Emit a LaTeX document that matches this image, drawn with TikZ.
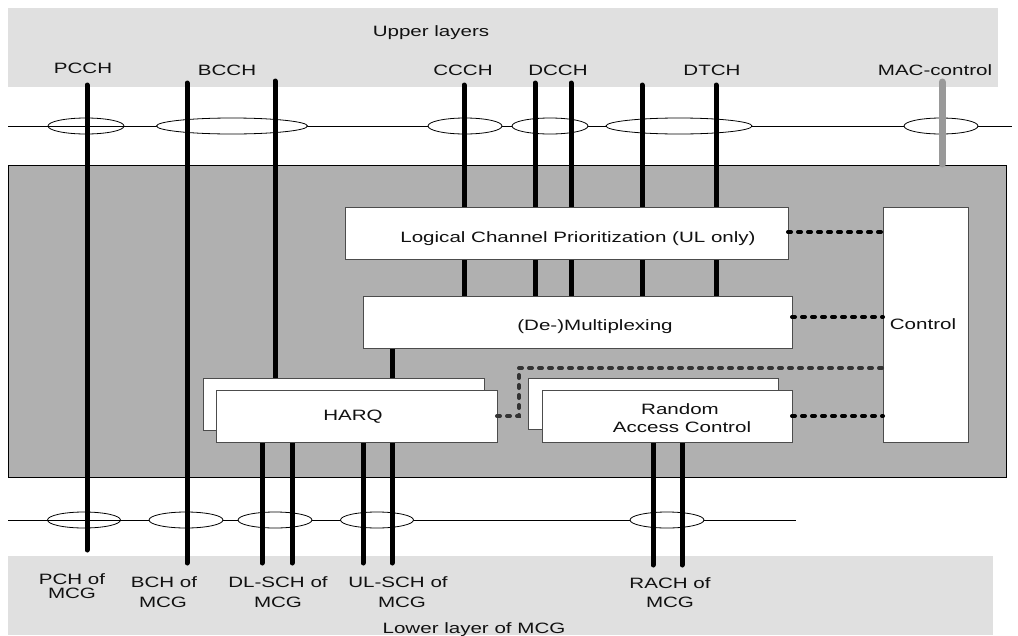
\documentclass[tikz,border=0pt]{standalone}
\usepackage{fontspec}
\setmainfont{Liberation Sans}
\usetikzlibrary{shapes.geometric}
\definecolor{bandgray}{HTML}{E0E0E0}
\definecolor{macgray}{HTML}{B0B0B0}
\definecolor{macline}{HTML}{999999}
\definecolor{dgray}{HTML}{333333}
\definecolor{txtc}{HTML}{111111}
\newcommand{\sx}[1]{\scalebox{1.37}[1]{#1}}
\begin{document}
\begin{tikzpicture}[x=1pt,y=-1pt,
  font=\fontsize{15}{18}\selectfont,
  ch/.style={line width=5pt, line cap=round},
  macch/.style={line width=7pt, line cap=round, draw=macline},
  thinline/.style={line width=0.8pt},
  boxn/.style={rectangle, draw=black!70, fill=white, line width=0.8pt, inner sep=0pt, outer sep=0pt},
  ell/.style={ellipse, draw=black, line width=0.8pt, inner sep=0pt, minimum height=16pt},
  ellw/.style={ell, fill=white},
  txt/.style={inner sep=0pt, anchor=base, text=txtc},
  dotl/.style={line width=4pt, dash pattern=on 3pt off 7pt, line cap=round},
  dashg/.style={dotl, draw=dgray}]
\useasboundingbox (0,0) rectangle (1018,635);
\fill[white] (0,0) rectangle (1018,635);
% bands
\fill[bandgray] (8,8) rectangle (998,87);
\fill[bandgray] (8,556) rectangle (993,635);
% horizontal lines
\coordinate (hl1) at (8,126); \coordinate (hl2) at (1012,126);
\coordinate (hb1) at (8,520); \coordinate (hb2) at (796,520);
\draw[thinline] (hl1) -- (hl2);
\draw[thinline] (hb1) -- (hb2);
% ellipses top
\node[ell,  minimum width=76pt]  (ePCCH) at (86,126) {};
\node[ellw, minimum width=151pt] (eBCCH) at (232,126) {};
\node[ellw, minimum width=74pt]  (eCCCH) at (465,126) {};
\node[ellw, minimum width=76pt]  (eDCCH) at (550,126) {};
\node[ellw, minimum width=146pt] (eDTCH) at (679,126) {};
\node[ellw, minimum width=74pt]  (eMAC)  at (941,126) {};
% ellipses bottom
\node[ell,  minimum width=73pt] (ePCH)  at (84,520) {};
\node[ellw, minimum width=74pt] (eBCH)  at (186,520) {};
\node[ellw, minimum width=74pt] (eDL)   at (275,520) {};
\node[ellw, minimum width=73pt] (eUL)   at (377,520) {};
\node[ellw, minimum width=74pt] (eRACH) at (667,520) {};
% main MAC box
\draw[fill=macgray, line width=0.8pt] (8,165) rectangle (1006,477);
% box nodes (placed now, drawn later on top)
\path
  (566.5,233) node[boxn, draw=none, fill=none, minimum width=443pt, minimum height=52pt] (lcp) {}
  (577.5,322) node[boxn, draw=none, fill=none, minimum width=429pt, minimum height=52pt] (dmx) {}
  (343.5,404) node[boxn, draw=none, fill=none, minimum width=281pt, minimum height=52pt] (harqb) {}
  (356.5,416) node[boxn, draw=none, fill=none, minimum width=281pt, minimum height=52pt] (harq) {}
  (653,403.5) node[boxn, draw=none, fill=none, minimum width=250pt, minimum height=51pt] (racb) {}
  (667,416)   node[boxn, draw=none, fill=none, minimum width=250pt, minimum height=52pt] (rac) {}
  (925.5,324.5) node[boxn, draw=none, fill=none, minimum width=85pt, minimum height=235pt] (ctrl) {};
% channel lines
\coordinate (tPCCH) at (87,85);   \coordinate (bPCH) at (87,550);
\coordinate (tB1) at (187,83);    \coordinate (bB1) at (187,563);
\coordinate (tB2) at (275,81);
\coordinate (tC) at (464,85);
\coordinate (tD1) at (535,83);
\coordinate (tD2) at (571,83);
\coordinate (tT1) at (642,85);
\coordinate (tT2) at (716,85);
\coordinate (tM) at (942,82);     \coordinate (bM) at (942,164);
\coordinate (bDL1) at (262,563);  \coordinate (bDL2) at (292,563);
\coordinate (bUL1) at (363,563);  \coordinate (bUL2) at (392,563);
\coordinate (bR1) at (653,565);   \coordinate (bR2) at (682,565);
\draw[ch] (tPCCH) -- (bPCH);
\draw[ch] (tB1) -- (bB1);
\draw[ch] (tB2) -- (tB2 |- harqb.north);
\draw[ch] (tC) -- (tC |- dmx.north);
\draw[ch] (tD1) -- (tD1 |- dmx.north);
\draw[ch] (tD2) -- (tD2 |- dmx.north);
\draw[ch] (tT1) -- (tT1 |- dmx.north);
\draw[ch] (tT2) -- (tT2 |- dmx.north);
\draw[ch] (bUL2 |- dmx.south) -- (bUL2 |- harqb.north);
\draw[ch] (bDL1 |- harq.south) -- (bDL1);
\draw[ch] (bDL2 |- harq.south) -- (bDL2);
\draw[ch] (bUL1 |- harq.south) -- (bUL1);
\draw[ch] (bUL2 |- harq.south) -- (bUL2);
\draw[ch] (bR1 |- rac.south) -- (bR1);
\draw[ch] (bR2 |- rac.south) -- (bR2);
\draw[macch] (tM) -- (bM);
% boxes drawn
\foreach \b in {lcp,dmx,harqb,harq,racb,rac,ctrl}
  \draw[draw=black!70, fill=white, line width=0.8pt] (\b.north west) rectangle (\b.south east);
% control connectors
\draw[dotl] (lcp.east |- 0,232) -- (ctrl.west |- 0,232);
\draw[dotl] (dmx.east |- 0,317) -- (ctrl.west |- 0,317);
\draw[dotl] (rac.east) -- (ctrl.west |- rac.east);
\draw[dashg] (harq.east) -- ++(22,0) |- (ctrl.west |- 0,368);
% texts
\node[txt] (tUpper) at (431,36.5) {\sx{Upper layers}};
\node[txt] (lPCCH) at (83,73) {\sx{PCCH}};
\node[txt] (lBCCH) at (227,75) {\sx{BCCH}};
\node[txt] (lCCCH) at (463,75) {\sx{CCCH}};
\node[txt] (lDCCH) at (558,75) {\sx{DCCH}};
\node[txt] (lDTCH) at (712,75) {\sx{DTCH}};
\node[txt] (lMAC) at (935,75) {\sx{MAC-control}};
\node[txt] (tLCP) at (578,242.5) {\sx{Logical Channel Prioritization (UL only)}};
\node[txt] (tDMX) at (595,330) {\sx{(De-)Multiplexing}};
\node[txt] (tCtrl) at (923,329) {\sx{Control}};
\node[txt] (tHARQ) at (353,420.5) {\sx{HARQ}};
\node[txt] (tRAC1) at (680,414) {\sx{Random}};
\node[txt] (tRAC2) at (682,432.5) {\sx{Access Control}};
\node[txt] (lPCH1) at (72,584) {\sx{PCH of}};
\node[txt] (lPCH2) at (72,598) {\sx{MCG}};
\node[txt] (lBCH1) at (164,587) {\sx{BCH of}};
\node[txt] (lBCH2) at (163,607) {\sx{MCG}};
\node[txt] (lDL1) at (278,587) {\sx{DL-SCH of}};
\node[txt] (lDL2) at (278,607) {\sx{MCG}};
\node[txt] (lUL1) at (398,587) {\sx{UL-SCH of}};
\node[txt] (lUL2) at (402,607) {\sx{MCG}};
\node[txt] (lR1) at (670,588) {\sx{RACH of}};
\node[txt] (lR2) at (670,607) {\sx{MCG}};
\node[txt] (tLower) at (474,633) {\sx{Lower layer of MCG}};
\end{tikzpicture}
\end{document}
